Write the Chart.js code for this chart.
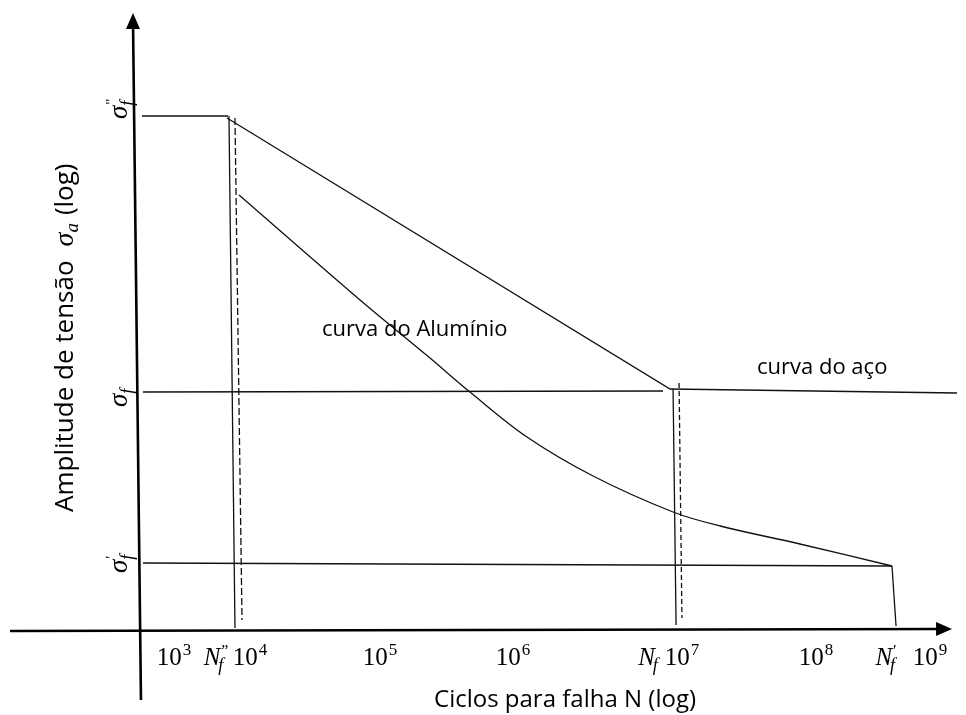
<!DOCTYPE html>
<html>
<head>
<meta charset="utf-8">
<script src="https://cdn.jsdelivr.net/npm/chart.js@4/dist/chart.umd.min.js"></script>
<style>
  html, body { margin: 0; padding: 0; background: #fff; }
  canvas { display: block; }
</style>
</head>
<body>
<canvas id="sn" width="966" height="715"></canvas>
<script>
// Schematic S-N diagram: x = position along the log N axis (decades),
// y = log of the stress amplitude (schematic units, x axis at 0).

// Decade labels on the N axis
const decadeExponents = [3, 4, 5, 6, 7, 8, 9];
const decadeAt = [3.433, 4.015, 5.011, 6.030, 7.324, 8.351, 9.224];

// Named cycle counts marked on the N axis
const nMarkPrimes = ['\u02EE', '', '\u2032'];
const nMarkAt = [3.755, 7.064, 8.887];

// Stress levels σf'', σf, σf'
const sigmaPrimes = ['"', '', '\u2032'];
const sigmaLevels = [5.15, 2.39, 0.68];
const sigmaLabelAt = [5.12, 2.24, 0.58];

// Steel curve: plateau, sloped part, endurance limit
const steelPlateauN = [3.188, 3.847];
const steelPlateauS = [5.15, 5.15];
const steelN = [3.839, 7.233, 9.431];
const steelS = [5.13, 2.42, 2.38];

// Aluminium curve
const aluminiumN = [3.931, 4.858, 5.394, 5.700, 6.137, 6.643, 7.256, 7.616, 8.228, 8.933];
const aluminiumS = [4.36, 3.31, 2.73, 2.39, 1.94, 1.55, 1.19, 1.05, 0.87, 0.65];

// Reference lines at σf and σf'
const sigmaFN = [3.195, 7.179];
const sigmaFS = [2.39, 2.40];
const sigmaFPrimeN = [3.195, 8.933];
const sigmaFPrimeS = [0.68, 0.65];

// Drop lines at Nf'', Nf, Nf' (solid) and their dashed companions
const dropNfpp = [[3.854, 5.15], [3.900, 0.03]];
const dropNfppDashed = [[3.900, 5.13], [3.954, 0.11]];
const dropNf = [[7.256, 2.42], [7.279, 0.06]];
const dropNfDashed = [[7.302, 2.48], [7.324, 0.13]];
const dropNfp = [[8.933, 0.65], [8.964, 0.05]];

// Axes (with arrow tips)
const yAxisLine = [[3.119, 6.08], [3.180, -0.69]];
const xAxisLine = [[2.177, 0.0], [9.30, 0.02]];
const yArrowTip = [3.119, 6.18];
const xArrowTip = [9.393, 0.02];

const INK = '#111';
const pairs = (xs, ys) => xs.map((x, i) => ({ x, y: ys[i] }));
const pts = arr => arr.map(([x, y]) => ({ x, y }));

function line(data, extra) {
  return Object.assign({
    data,
    borderColor: INK,
    borderWidth: 1.3,
    pointRadius: 0,
    tension: 0,
    fill: false
  }, extra || {});
}

const datasets = [
  line(pts(yAxisLine), { borderWidth: 2.6, borderColor: '#000' }),
  line(pts(xAxisLine), { borderWidth: 2.6, borderColor: '#000' }),
  line(pairs(steelPlateauN, steelPlateauS)),
  line(pairs(steelN, steelS)),
  line(pairs(sigmaFN, sigmaFS)),
  line(pairs(sigmaFPrimeN, sigmaFPrimeS)),
  line(pts(dropNfpp)),
  line(pts(dropNfppDashed), { borderDash: [7, 3] }),
  line(pts(dropNf)),
  line(pts(dropNfDashed), { borderDash: [5, 3] }),
  line(pts(dropNfp)),
  line(pairs(aluminiumN, aluminiumS), { tension: 0.35 })
];

const SERIF = '"Liberation Serif", "DejaVu Serif", serif';
const SANS = '"Open Sans", "Liberation Sans", sans-serif';

// Draw a run of text pieces (each with its own font and vertical offset)
function runsWidth(ctx, runs) {
  let w = 0;
  for (const r of runs) {
    ctx.font = r.font;
    const rw = ctx.measureText(r.t).width + (r.dx || 0);
    if (!r.stack) w += rw + (r.gap || 0);
  }
  return w;
}
function drawRuns(ctx, runs, x, y, rot, align) {
  ctx.save();
  ctx.translate(x, y);
  if (rot) ctx.rotate(rot);
  ctx.textBaseline = 'alphabetic';
  ctx.textAlign = 'left';
  let cx = align === 'center' ? -runsWidth(ctx, runs) / 2 : 0;
  for (const r of runs) {
    ctx.font = r.font;
    ctx.fillText(r.t, cx + (r.dx || 0), r.dy || 0);
    if (!r.stack) cx += ctx.measureText(r.t).width + (r.dx || 0) + (r.gap || 0);
  }
  ctx.restore();
}

const labelsPlugin = {
  id: 'snLabels',
  afterDatasetsDraw(chart) {
    const ctx = chart.ctx;
    const xs = chart.scales.x, ys = chart.scales.y;
    const X = v => xs.getPixelForValue(v);
    const Y = v => ys.getPixelForValue(v);
    ctx.fillStyle = '#000';

    // arrow heads
    ctx.beginPath();
    const ty = [X(yArrowTip[0]), Y(yArrowTip[1])];
    ctx.moveTo(ty[0], ty[1]);
    ctx.lineTo(ty[0] - 7, ty[1] + 16);
    ctx.lineTo(ty[0] + 7, ty[1] + 16);
    ctx.closePath();
    ctx.fill();
    ctx.beginPath();
    const tx = [X(xArrowTip[0]), Y(xArrowTip[1])];
    ctx.moveTo(tx[0], tx[1]);
    ctx.lineTo(tx[0] - 16, tx[1] - 7);
    ctx.lineTo(tx[0] - 16, tx[1] + 7);
    ctx.closePath();
    ctx.fill();

    // decade labels 10^n
    const baseY = Y(-0.34);
    decadeExponents.forEach((e, i) => {
      drawRuns(ctx, [
        { t: '10', font: `25px ${SERIF}` },
        { t: String(e), font: `17px ${SERIF}`, dy: -10, dx: 1 }
      ], X(decadeAt[i]), baseY, 0, 'center');
    });

    // N marks
    nMarkAt.forEach((n, i) => {
      const runs = [
        { t: 'N', font: `italic 25px ${SERIF}` },
        { t: 'f', font: `italic 18px ${SERIF}`, dy: 6, dx: -2, stack: !!nMarkPrimes[i] }
      ];
      if (nMarkPrimes[i]) runs.push({ t: nMarkPrimes[i], font: `16px ${SERIF}`, dy: -9, dx: 1 });
      drawRuns(ctx, runs, X(n), baseY, 0, 'center');
    });

    // σ labels on the stress axis (rotated)
    sigmaLevels.forEach((s, i) => {
      const runs = [
        { t: 'σ', font: `italic 27px ${SERIF}` },
        { t: 'f', font: `italic 18px ${SERIF}`, dy: 6, dx: 0, stack: !!sigmaPrimes[i] }
      ];
      if (sigmaPrimes[i]) runs.push({ t: sigmaPrimes[i], font: `15px ${SERIF}`, dy: -11, dx: 1 });
      drawRuns(ctx, runs, 127, Y(sigmaLabelAt[i]), -Math.PI / 2, 'left');
    });

    // curve names
    ctx.fillStyle = '#000';
    drawRuns(ctx, [{ t: 'curva do Alumínio', font: `22px ${SANS}` }], X(4.567), Y(2.95), 0, 'left');
    drawRuns(ctx, [{ t: 'curva do aço', font: `22px ${SANS}` }], X(7.899), Y(2.57), 0, 'left');

    // axis titles
    drawRuns(ctx, [{ t: 'Ciclos para falha N (log)', font: `24px ${SANS}` }], 565, 707, 0, 'center');
    drawRuns(ctx, [
      { t: 'Amplitude de tensão', font: `26px ${SANS}`, gap: 14 },
      { t: 'σ', font: `italic 28px ${SERIF}` },
      { t: 'a', font: `italic 19px ${SERIF}`, dy: 5, gap: 8 },
      { t: '(log)', font: `26px ${SANS}` }
    ], 73, 512, -Math.PI / 2, 'left');
  }
};

new Chart(document.getElementById('sn'), {
  type: 'line',
  data: { datasets },
  options: {
    responsive: false,
    animation: false,
    events: [],
    layout: { padding: 0 },
    plugins: { legend: { display: false }, tooltip: { enabled: false } },
    scales: {
      x: { type: 'linear', min: 2.1, max: 9.5, display: false },
      y: { type: 'linear', min: -0.84, max: 6.31, display: false }
    }
  },
  plugins: [labelsPlugin]
});
</script>
</body>
</html>
